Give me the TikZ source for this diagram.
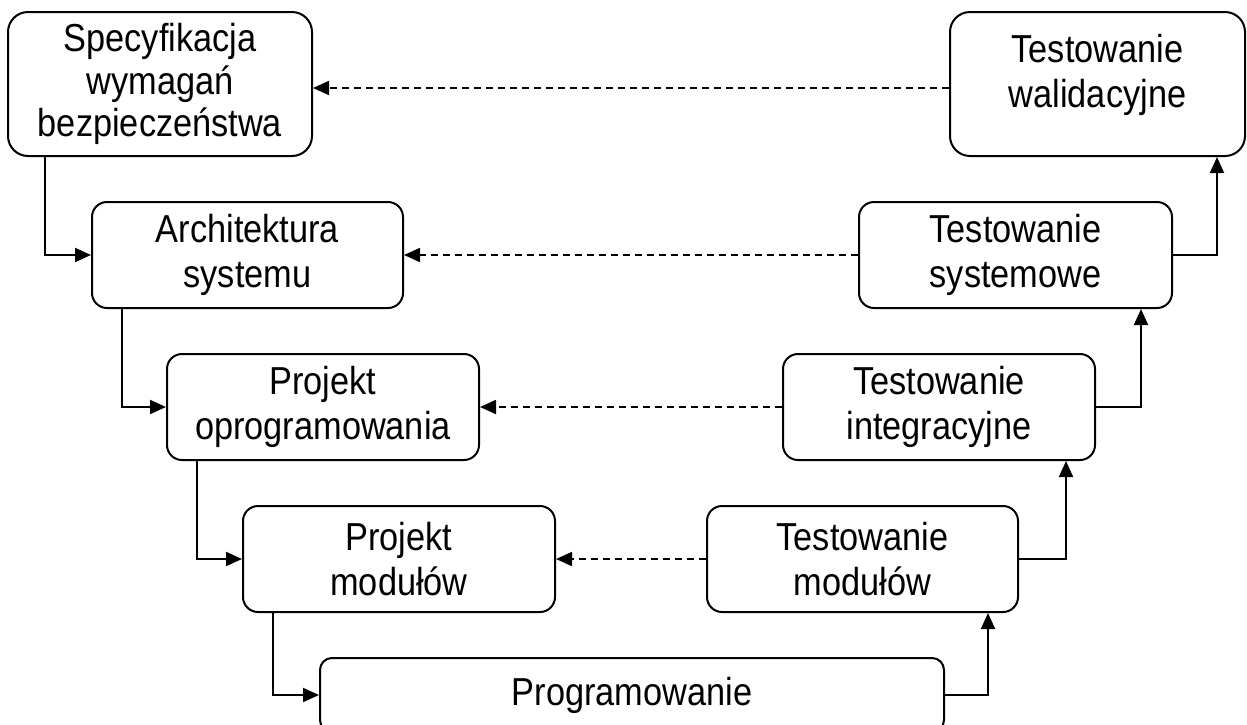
\documentclass[tikz,border=0pt]{standalone}
\usepackage{fontspec}
\setmainfont{Liberation Sans}[FakeStretch=0.88]
\usetikzlibrary{arrows.meta}
\begin{document}
\begin{tikzpicture}[x=1pt,y=-1pt,
  txt/.style={align=center,inner sep=0pt,font=\fontsize{39}{45}\selectfont},
  box/.style={txt,draw,line width=2pt,rounded corners=15pt,minimum width=312pt,minimum height=106pt},
  bigbox/.style={box,minimum height=144pt,rounded corners=20pt},
  arr/.style={line width=2pt,-{Triangle[length=16pt,width=14pt]}},
  dsh/.style={line width=1.8pt,dash pattern=on 7pt off 5pt,-{Triangle[length=16pt,width=14pt]}}]
\useasboundingbox (0,0) rectangle (1247,724);
\clip (0,0) rectangle (1247,724);
% left branch
\node[bigbox,minimum width=304pt,font=\fontsize{39}{42.5}\selectfont] (b1) at (160,84) {Specyfikacja\\wymagań\\bezpieczeństwa};
\node[box,minimum width=311pt] (b3) at (247.5,255) {Architektura\\systemu};
\node[box] (b5) at (323,407) {Projekt\\oprogramowania};
\node[box] (b7) at (399,559) {Projekt\\modułów};
% bottom
\node[box,minimum width=624pt,minimum height=74pt,rounded corners=12pt] (b9) at (632,695) {Programowanie};
% right branch
\node[box,minimum width=311pt] (b8) at (862.5,559) {Testowanie\\modułów};
\node[box] (b6) at (939,407) {Testowanie\\integracyjne};
\node[box,minimum width=313pt] (b4) at (1015.5,255) {Testowanie\\systemowe};
\node[bigbox,minimum width=295pt] (b2) at (1097.5,84) {};
\node[txt] (t2) at ([yshift=9pt]b2.center) {Testowanie\\walidacyjne};
% solid connectors, left side
\draw[arr] ([xshift=38pt]b1.south west) |- (b3.west);
\draw[arr] ([xshift=31pt]b3.south west) |- (b5.west);
\draw[arr] ([xshift=31pt]b5.south west) |- (b7.west);
\draw[arr] ([xshift=31pt]b7.south west) |- (b9.west);
% solid connectors, right side
\draw[arr] (b9.east) -| ([xshift=-31pt]b8.south east);
\draw[arr] (b8.east) -| ([xshift=-30pt]b6.south east);
\draw[arr] (b6.east) -| ([xshift=-32pt]b4.south east);
\draw[arr] (b4.east) -| ([xshift=-29pt]b2.south east);
% dashed connectors
\draw[dsh] ([yshift=-4pt]b2.west) -- ([yshift=-4pt]b1.east);
\draw[dsh] (b4.west) -- (b3.east);
\draw[dsh] (b6.west) -- (b5.east);
\draw[dsh] (b8.west) -- (b7.east);
\end{tikzpicture}
\end{document}
